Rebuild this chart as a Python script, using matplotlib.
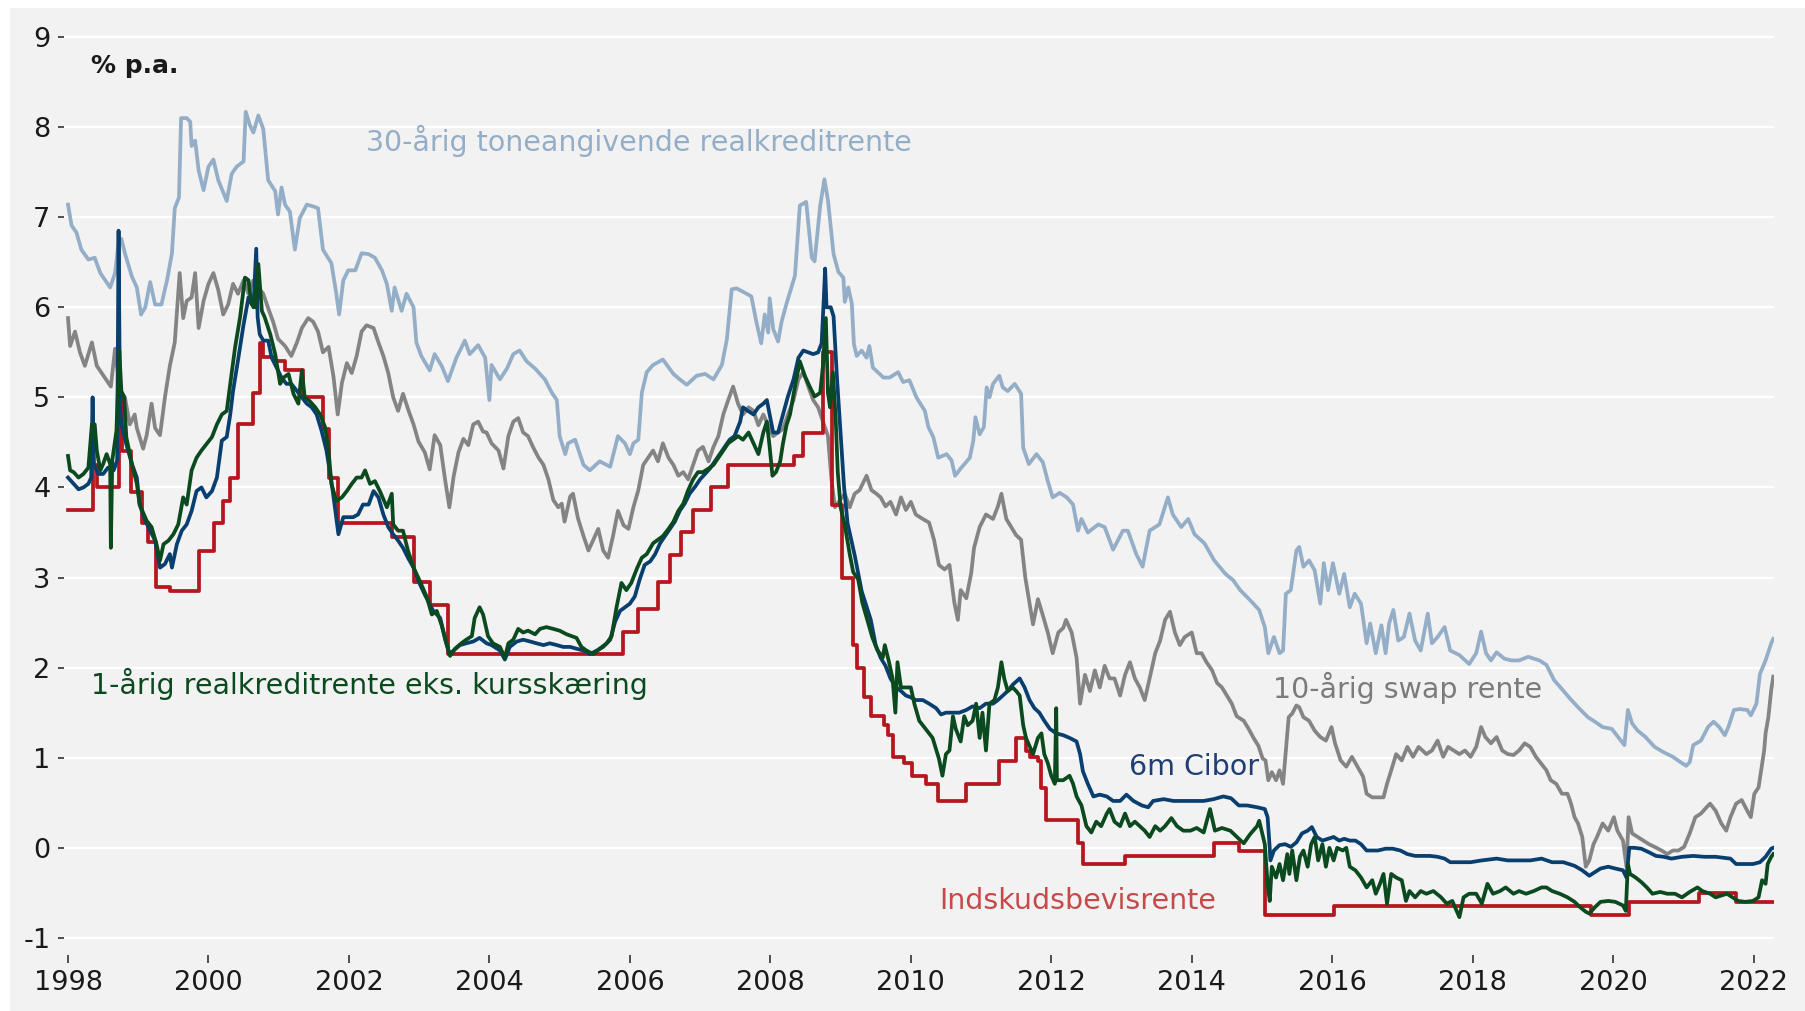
import matplotlib
matplotlib.use("Agg")
import matplotlib.pyplot as plt
from matplotlib.patches import Rectangle

plt.rcParams['font.family'] = ['DejaVu Sans']
plt.rcParams['axes.unicode_minus'] = False

# (decimal year, % p.a.)
realkredit_30 = [
    (1998.00, 7.14), (1998.05, 6.91), (1998.12, 6.83), (1998.19, 6.64), (1998.29, 6.53), (1998.38, 6.55),
    (1998.46, 6.38), (1998.60, 6.22), (1998.67, 6.38), (1998.72, 6.72), (1998.76, 6.76), (1998.81, 6.60),
    (1998.91, 6.34), (1998.98, 6.22), (1999.04, 5.92), (1999.10, 6.00), (1999.17, 6.28), (1999.24, 6.03),
    (1999.33, 6.03), (1999.41, 6.30), (1999.48, 6.60), (1999.52, 7.10), (1999.58, 7.22), (1999.61, 8.10),
    (1999.69, 8.10), (1999.74, 8.06), (1999.76, 7.79), (1999.81, 7.85), (1999.86, 7.52), (1999.93, 7.30),
    (2000.00, 7.56), (2000.07, 7.64), (2000.14, 7.41), (2000.26, 7.18), (2000.33, 7.48), (2000.40, 7.56),
    (2000.50, 7.62), (2000.53, 8.17), (2000.59, 8.02), (2000.64, 7.94), (2000.71, 8.13), (2000.78, 7.98),
    (2000.85, 7.41), (2000.95, 7.29), (2000.99, 7.03), (2001.04, 7.33), (2001.09, 7.14), (2001.16, 7.06),
    (2001.23, 6.64), (2001.30, 6.99), (2001.40, 7.14), (2001.49, 7.12), (2001.56, 7.10), (2001.63, 6.64),
    (2001.75, 6.49), (2001.82, 6.15), (2001.86, 5.92), (2001.92, 6.30), (2001.99, 6.41), (2002.09, 6.41),
    (2002.18, 6.60), (2002.28, 6.59), (2002.37, 6.55), (2002.47, 6.41), (2002.54, 6.26), (2002.61, 5.96),
    (2002.65, 6.22), (2002.75, 5.96), (2002.82, 6.15), (2002.92, 6.00), (2002.96, 5.61), (2003.03, 5.46),
    (2003.15, 5.30), (2003.22, 5.48), (2003.32, 5.35), (2003.41, 5.18), (2003.53, 5.44), (2003.65, 5.63),
    (2003.72, 5.48), (2003.84, 5.58), (2003.94, 5.44), (2004.00, 4.97), (2004.03, 5.36), (2004.15, 5.20),
    (2004.25, 5.32), (2004.34, 5.48), (2004.43, 5.52), (2004.53, 5.40), (2004.65, 5.32), (2004.79, 5.20),
    (2004.89, 5.05), (2004.96, 4.97), (2005.00, 4.57), (2005.08, 4.37), (2005.12, 4.49), (2005.22, 4.53),
    (2005.34, 4.25), (2005.43, 4.19), (2005.57, 4.29), (2005.72, 4.23), (2005.83, 4.57), (2005.93, 4.49),
    (2006.00, 4.37), (2006.05, 4.49), (2006.12, 4.53), (2006.17, 5.05), (2006.24, 5.28), (2006.33, 5.36),
    (2006.47, 5.42), (2006.62, 5.26), (2006.71, 5.20), (2006.81, 5.14), (2006.95, 5.24), (2007.07, 5.26),
    (2007.19, 5.20), (2007.31, 5.36), (2007.38, 5.64), (2007.45, 6.20), (2007.52, 6.21), (2007.64, 6.16),
    (2007.73, 6.12), (2007.80, 5.84), (2007.87, 5.60), (2007.92, 5.92), (2007.97, 5.72), (2007.99, 6.10),
    (2008.04, 5.76), (2008.11, 5.62), (2008.16, 5.84), (2008.23, 6.04), (2008.35, 6.35), (2008.42, 7.13),
    (2008.51, 7.17), (2008.59, 6.55), (2008.63, 6.51), (2008.71, 7.13), (2008.77, 7.42), (2008.82, 7.19),
    (2008.90, 6.59), (2008.97, 6.39), (2009.04, 6.33), (2009.06, 6.06), (2009.11, 6.22), (2009.16, 6.04),
    (2009.19, 5.59), (2009.23, 5.46), (2009.30, 5.52), (2009.37, 5.44), (2009.41, 5.57), (2009.46, 5.33),
    (2009.61, 5.22), (2009.70, 5.22), (2009.82, 5.28), (2009.89, 5.17), (2009.98, 5.19), (2010.08, 5.00),
    (2010.20, 4.85), (2010.25, 4.67), (2010.32, 4.56), (2010.39, 4.33), (2010.51, 4.37), (2010.58, 4.30),
    (2010.63, 4.13), (2010.72, 4.22), (2010.84, 4.33), (2010.89, 4.52), (2010.92, 4.78), (2010.98, 4.59),
    (2011.04, 4.67), (2011.08, 5.11), (2011.12, 5.00), (2011.17, 5.15), (2011.26, 5.24), (2011.31, 5.11),
    (2011.38, 5.07), (2011.48, 5.15), (2011.57, 5.04), (2011.60, 4.44), (2011.68, 4.26), (2011.79, 4.37),
    (2011.88, 4.28), (2011.95, 4.07), (2012.02, 3.89), (2012.12, 3.94), (2012.22, 3.89), (2012.31, 3.81),
    (2012.38, 3.52), (2012.43, 3.65), (2012.52, 3.50), (2012.67, 3.59), (2012.76, 3.56), (2012.88, 3.31),
    (2013.02, 3.52), (2013.09, 3.52), (2013.16, 3.37), (2013.21, 3.26), (2013.30, 3.12), (2013.40, 3.52),
    (2013.54, 3.59), (2013.66, 3.89), (2013.73, 3.70), (2013.85, 3.56), (2013.95, 3.65), (2014.04, 3.48),
    (2014.18, 3.38), (2014.32, 3.19), (2014.48, 3.04), (2014.59, 2.97), (2014.69, 2.86), (2014.83, 2.75),
    (2014.96, 2.64), (2015.04, 2.45), (2015.09, 2.16), (2015.17, 2.34), (2015.25, 2.16), (2015.30, 2.19),
    (2015.34, 2.82), (2015.41, 2.86), (2015.49, 3.30), (2015.53, 3.34), (2015.59, 3.12), (2015.67, 3.19),
    (2015.75, 3.08), (2015.83, 2.71), (2015.88, 3.16), (2015.94, 2.86), (2016.01, 3.16), (2016.10, 2.82),
    (2016.17, 3.04), (2016.25, 2.67), (2016.32, 2.82), (2016.41, 2.71), (2016.49, 2.27), (2016.54, 2.49),
    (2016.62, 2.16), (2016.70, 2.47), (2016.76, 2.16), (2016.81, 2.49), (2016.87, 2.64), (2016.94, 2.30),
    (2017.02, 2.34), (2017.10, 2.60), (2017.18, 2.30), (2017.26, 2.19), (2017.36, 2.60), (2017.42, 2.27),
    (2017.50, 2.34), (2017.60, 2.45), (2017.68, 2.19), (2017.81, 2.14), (2017.95, 2.04), (2018.05, 2.16),
    (2018.12, 2.40), (2018.19, 2.16), (2018.26, 2.08), (2018.34, 2.17), (2018.45, 2.10), (2018.55, 2.08),
    (2018.66, 2.08), (2018.79, 2.12), (2018.95, 2.08), (2019.05, 2.03), (2019.16, 1.86), (2019.24, 1.79),
    (2019.37, 1.67), (2019.50, 1.56), (2019.64, 1.45), (2019.74, 1.40), (2019.85, 1.34), (2019.98, 1.32),
    (2020.09, 1.21), (2020.16, 1.14), (2020.21, 1.53), (2020.27, 1.38), (2020.35, 1.30), (2020.46, 1.23),
    (2020.59, 1.12), (2020.72, 1.06), (2020.85, 1.01), (2020.96, 0.95), (2021.04, 0.91), (2021.09, 0.95),
    (2021.14, 1.14), (2021.25, 1.19), (2021.35, 1.34), (2021.43, 1.40), (2021.51, 1.34), (2021.59, 1.25),
    (2021.64, 1.34), (2021.72, 1.53), (2021.80, 1.54), (2021.91, 1.53), (2021.96, 1.47), (2022.04, 1.60),
    (2022.09, 1.93), (2022.17, 2.08), (2022.25, 2.27), (2022.28, 2.32),
]

swap_10 = [
    (1998.00, 5.88), (1998.03, 5.57), (1998.10, 5.73), (1998.17, 5.50), (1998.24, 5.35), (1998.34, 5.61),
    (1998.41, 5.35), (1998.48, 5.27), (1998.55, 5.19), (1998.61, 5.12), (1998.67, 5.54), (1998.74, 5.08),
    (1998.81, 5.00), (1998.88, 4.70), (1998.95, 4.81), (1998.98, 4.66), (1999.07, 4.43), (1999.12, 4.58),
    (1999.19, 4.93), (1999.24, 4.66), (1999.31, 4.58), (1999.38, 5.00), (1999.45, 5.35), (1999.52, 5.61),
    (1999.59, 6.38), (1999.64, 5.88), (1999.69, 6.07), (1999.76, 6.11), (1999.81, 6.38), (1999.86, 5.77),
    (1999.93, 6.07), (2000.00, 6.26), (2000.07, 6.38), (2000.14, 6.19), (2000.21, 5.92), (2000.28, 6.03),
    (2000.35, 6.26), (2000.42, 6.15), (2000.50, 6.30), (2000.57, 6.15), (2000.64, 6.30), (2000.71, 6.22),
    (2000.78, 6.15), (2000.85, 5.99), (2000.92, 5.84), (2000.99, 5.65), (2001.09, 5.57), (2001.18, 5.46),
    (2001.26, 5.61), (2001.33, 5.77), (2001.42, 5.88), (2001.49, 5.84), (2001.56, 5.73), (2001.63, 5.50),
    (2001.71, 5.56), (2001.78, 5.23), (2001.84, 4.81), (2001.90, 5.16), (2001.97, 5.38), (2002.04, 5.27),
    (2002.11, 5.46), (2002.18, 5.73), (2002.25, 5.80), (2002.35, 5.77), (2002.42, 5.61), (2002.49, 5.46),
    (2002.56, 5.27), (2002.63, 5.00), (2002.70, 4.85), (2002.77, 5.04), (2002.85, 4.85), (2002.92, 4.70),
    (2002.99, 4.51), (2003.08, 4.39), (2003.15, 4.20), (2003.22, 4.58), (2003.30, 4.47), (2003.37, 4.08),
    (2003.43, 3.78), (2003.49, 4.12), (2003.56, 4.39), (2003.63, 4.54), (2003.70, 4.47), (2003.77, 4.70),
    (2003.84, 4.73), (2003.91, 4.62), (2003.96, 4.61), (2004.03, 4.49), (2004.13, 4.41), (2004.20, 4.21),
    (2004.27, 4.57), (2004.34, 4.73), (2004.41, 4.77), (2004.48, 4.61), (2004.55, 4.57), (2004.62, 4.45),
    (2004.70, 4.33), (2004.77, 4.25), (2004.84, 4.09), (2004.91, 3.86), (2004.98, 3.78), (2005.03, 3.82),
    (2005.07, 3.62), (2005.15, 3.90), (2005.19, 3.93), (2005.26, 3.66), (2005.34, 3.46), (2005.41, 3.30),
    (2005.48, 3.42), (2005.55, 3.54), (2005.62, 3.30), (2005.69, 3.22), (2005.76, 3.46), (2005.83, 3.74),
    (2005.91, 3.58), (2005.98, 3.54), (2006.05, 3.78), (2006.12, 3.97), (2006.19, 4.25), (2006.26, 4.33),
    (2006.33, 4.41), (2006.40, 4.29), (2006.47, 4.49), (2006.55, 4.33), (2006.62, 4.25), (2006.69, 4.13),
    (2006.76, 4.17), (2006.83, 4.09), (2006.90, 4.25), (2006.97, 4.41), (2007.04, 4.45), (2007.12, 4.29),
    (2007.19, 4.45), (2007.26, 4.57), (2007.33, 4.81), (2007.40, 4.97), (2007.47, 5.12), (2007.54, 4.93),
    (2007.61, 4.81), (2007.69, 4.89), (2007.76, 4.85), (2007.83, 4.69), (2007.90, 4.81), (2007.97, 4.69),
    (2008.04, 4.57), (2008.11, 4.61), (2008.18, 4.65), (2008.25, 4.81), (2008.33, 4.97), (2008.40, 5.20),
    (2008.47, 5.28), (2008.54, 5.12), (2008.61, 4.97), (2008.68, 4.89), (2008.75, 4.73), (2008.82, 4.57),
    (2008.87, 4.09), (2008.92, 3.78), (2008.99, 3.86), (2009.06, 3.93), (2009.13, 3.78), (2009.20, 3.93),
    (2009.27, 3.97), (2009.37, 4.13), (2009.44, 3.97), (2009.51, 3.93), (2009.57, 3.89), (2009.64, 3.79),
    (2009.71, 3.84), (2009.79, 3.70), (2009.86, 3.89), (2009.93, 3.75), (2010.00, 3.84), (2010.07, 3.70),
    (2010.17, 3.65), (2010.26, 3.61), (2010.33, 3.42), (2010.40, 3.14), (2010.48, 3.09), (2010.55, 3.14),
    (2010.62, 2.72), (2010.67, 2.53), (2010.71, 2.86), (2010.79, 2.77), (2010.86, 3.05), (2010.90, 3.33),
    (2010.98, 3.56), (2011.07, 3.70), (2011.17, 3.65), (2011.24, 3.79), (2011.29, 3.93), (2011.36, 3.65),
    (2011.43, 3.56), (2011.50, 3.47), (2011.57, 3.42), (2011.63, 3.00), (2011.69, 2.72), (2011.74, 2.48),
    (2011.81, 2.76), (2011.88, 2.58), (2011.95, 2.39), (2012.02, 2.16), (2012.10, 2.39), (2012.17, 2.44),
    (2012.21, 2.53), (2012.29, 2.39), (2012.36, 2.11), (2012.41, 1.60), (2012.48, 1.92), (2012.55, 1.74),
    (2012.62, 1.97), (2012.69, 1.78), (2012.76, 2.02), (2012.83, 1.88), (2012.90, 1.88), (2012.98, 1.69),
    (2013.05, 1.92), (2013.12, 2.06), (2013.19, 1.88), (2013.26, 1.78), (2013.33, 1.64), (2013.40, 1.88),
    (2013.48, 2.16), (2013.55, 2.30), (2013.62, 2.53), (2013.69, 2.62), (2013.76, 2.39), (2013.83, 2.25),
    (2013.90, 2.34), (2014.00, 2.39), (2014.07, 2.16), (2014.14, 2.16), (2014.21, 2.06), (2014.29, 1.97),
    (2014.36, 1.83), (2014.43, 1.78), (2014.50, 1.69), (2014.57, 1.60), (2014.64, 1.46), (2014.74, 1.41),
    (2014.81, 1.32), (2014.88, 1.22), (2014.95, 1.13), (2015.01, 0.99), (2015.05, 0.97), (2015.09, 0.75),
    (2015.14, 0.84), (2015.20, 0.75), (2015.25, 0.86), (2015.30, 0.71), (2015.34, 1.08), (2015.38, 1.45),
    (2015.43, 1.49), (2015.49, 1.58), (2015.53, 1.56), (2015.59, 1.45), (2015.67, 1.41), (2015.75, 1.30),
    (2015.83, 1.23), (2015.91, 1.19), (2015.99, 1.34), (2016.04, 1.16), (2016.12, 0.97), (2016.20, 0.90),
    (2016.28, 1.01), (2016.36, 0.90), (2016.44, 0.79), (2016.49, 0.60), (2016.57, 0.56), (2016.65, 0.56),
    (2016.73, 0.56), (2016.78, 0.71), (2016.84, 0.86), (2016.91, 1.04), (2016.99, 0.97), (2017.07, 1.12),
    (2017.15, 1.01), (2017.23, 1.12), (2017.34, 1.04), (2017.42, 1.08), (2017.50, 1.19), (2017.58, 1.01),
    (2017.65, 1.12), (2017.73, 1.08), (2017.81, 1.04), (2017.89, 1.08), (2017.97, 1.01), (2018.05, 1.12),
    (2018.12, 1.34), (2018.18, 1.23), (2018.26, 1.16), (2018.34, 1.23), (2018.42, 1.08), (2018.50, 1.04),
    (2018.58, 1.03), (2018.66, 1.08), (2018.74, 1.16), (2018.82, 1.12), (2018.90, 1.01), (2018.98, 0.93),
    (2019.05, 0.86), (2019.11, 0.75), (2019.19, 0.71), (2019.27, 0.60), (2019.35, 0.60), (2019.40, 0.49),
    (2019.45, 0.34), (2019.50, 0.27), (2019.56, 0.12), (2019.61, -0.21), (2019.66, -0.14), (2019.72, 0.04),
    (2019.77, 0.12), (2019.85, 0.27), (2019.93, 0.19), (2020.01, 0.34), (2020.06, 0.19), (2020.14, 0.08),
    (2020.19, -0.21), (2020.22, 0.34), (2020.27, 0.16), (2020.35, 0.12), (2020.43, 0.08), (2020.51, 0.04),
    (2020.59, 0.01), (2020.69, -0.03), (2020.77, -0.07), (2020.85, -0.03), (2020.93, -0.03), (2021.01, 0.01),
    (2021.09, 0.16), (2021.17, 0.34), (2021.25, 0.38), (2021.33, 0.45), (2021.38, 0.49), (2021.46, 0.41),
    (2021.54, 0.27), (2021.61, 0.19), (2021.67, 0.34), (2021.75, 0.49), (2021.83, 0.53), (2021.91, 0.41),
    (2021.96, 0.34), (2022.01, 0.60), (2022.07, 0.67), (2022.12, 0.93), (2022.15, 1.08), (2022.17, 1.27),
    (2022.21, 1.45), (2022.25, 1.75), (2022.28, 1.90),
]

cibor_6m = [
    (1998.00, 4.11), (1998.08, 4.04), (1998.15, 3.98), (1998.22, 4.00), (1998.29, 4.04), (1998.33, 4.11),
    (1998.35, 5.00), (1998.37, 4.26), (1998.43, 4.15), (1998.50, 4.15), (1998.57, 4.22), (1998.65, 4.19),
    (1998.70, 4.30), (1998.72, 6.85), (1998.74, 4.90), (1998.76, 4.70), (1998.83, 4.48), (1998.91, 4.26),
    (1998.98, 4.11), (1999.02, 3.81), (1999.10, 3.63), (1999.17, 3.52), (1999.24, 3.41), (1999.31, 3.11),
    (1999.38, 3.15), (1999.45, 3.26), (1999.48, 3.11), (1999.55, 3.37), (1999.62, 3.52), (1999.69, 3.59),
    (1999.76, 3.74), (1999.83, 3.96), (1999.90, 4.00), (1999.97, 3.89), (2000.05, 3.96), (2000.12, 4.11),
    (2000.19, 4.52), (2000.26, 4.56), (2000.31, 4.81), (2000.35, 5.07), (2000.42, 5.41), (2000.50, 5.81),
    (2000.57, 6.11), (2000.64, 6.00), (2000.68, 6.65), (2000.70, 5.89), (2000.73, 5.70), (2000.78, 5.63),
    (2000.85, 5.63), (2000.90, 5.44), (2000.97, 5.33), (2001.04, 5.22), (2001.11, 5.15), (2001.18, 5.15),
    (2001.26, 5.07), (2001.33, 5.00), (2001.40, 4.93), (2001.47, 4.89), (2001.54, 4.81), (2001.61, 4.63),
    (2001.68, 4.41), (2001.75, 4.07), (2001.80, 3.78), (2001.85, 3.48), (2001.92, 3.67), (2001.99, 3.67),
    (2002.06, 3.67), (2002.13, 3.70), (2002.20, 3.81), (2002.28, 3.81), (2002.35, 3.96), (2002.42, 3.89),
    (2002.49, 3.70), (2002.56, 3.56), (2002.63, 3.48), (2002.70, 3.41), (2002.77, 3.33), (2002.84, 3.22),
    (2002.92, 3.11), (2002.99, 2.96), (2003.08, 2.81), (2003.20, 2.63), (2003.30, 2.55), (2003.37, 2.31),
    (2003.43, 2.15), (2003.49, 2.19), (2003.58, 2.25), (2003.67, 2.27), (2003.77, 2.29), (2003.86, 2.33),
    (2003.96, 2.27), (2004.03, 2.25), (2004.15, 2.19), (2004.22, 2.09), (2004.29, 2.23), (2004.39, 2.29),
    (2004.48, 2.31), (2004.58, 2.29), (2004.67, 2.27), (2004.77, 2.25), (2004.86, 2.27), (2004.96, 2.25),
    (2005.05, 2.23), (2005.15, 2.23), (2005.24, 2.21), (2005.34, 2.19), (2005.43, 2.15), (2005.53, 2.19),
    (2005.62, 2.23), (2005.72, 2.31), (2005.79, 2.51), (2005.86, 2.63), (2005.93, 2.67), (2006.00, 2.71),
    (2006.07, 2.79), (2006.14, 2.98), (2006.21, 3.14), (2006.29, 3.18), (2006.36, 3.26), (2006.43, 3.38),
    (2006.50, 3.46), (2006.57, 3.54), (2006.64, 3.62), (2006.71, 3.74), (2006.78, 3.82), (2006.85, 3.93),
    (2006.93, 4.01), (2007.00, 4.09), (2007.07, 4.15), (2007.14, 4.21), (2007.21, 4.29), (2007.28, 4.37),
    (2007.35, 4.45), (2007.42, 4.53), (2007.49, 4.57), (2007.57, 4.73), (2007.61, 4.89), (2007.68, 4.85),
    (2007.76, 4.81), (2007.83, 4.89), (2007.90, 4.93), (2007.95, 4.97), (2007.99, 4.81), (2008.04, 4.61),
    (2008.11, 4.61), (2008.18, 4.81), (2008.25, 5.01), (2008.33, 5.20), (2008.40, 5.44), (2008.47, 5.52),
    (2008.54, 5.50), (2008.61, 5.48), (2008.68, 5.50), (2008.73, 5.60), (2008.76, 6.08), (2008.78, 6.43),
    (2008.80, 6.00), (2008.86, 6.00), (2008.90, 5.90), (2008.95, 5.20), (2009.00, 4.60), (2009.05, 4.00),
    (2009.10, 3.60), (2009.20, 3.25), (2009.30, 2.85), (2009.43, 2.53), (2009.50, 2.25), (2009.57, 2.11),
    (2009.64, 2.02), (2009.71, 1.88), (2009.79, 1.78), (2009.86, 1.74), (2009.93, 1.69), (2010.00, 1.67),
    (2010.07, 1.64), (2010.17, 1.64), (2010.26, 1.60), (2010.36, 1.55), (2010.43, 1.48), (2010.50, 1.50),
    (2010.60, 1.50), (2010.69, 1.50), (2010.79, 1.53), (2010.88, 1.57), (2010.98, 1.55), (2011.07, 1.60),
    (2011.17, 1.60), (2011.24, 1.64), (2011.31, 1.69), (2011.38, 1.74), (2011.45, 1.81), (2011.55, 1.88),
    (2011.62, 1.78), (2011.69, 1.64), (2011.76, 1.55), (2011.83, 1.50), (2011.90, 1.41), (2011.98, 1.32),
    (2012.07, 1.27), (2012.17, 1.25), (2012.26, 1.22), (2012.36, 1.18), (2012.41, 1.04), (2012.45, 0.85),
    (2012.52, 0.71), (2012.60, 0.57), (2012.69, 0.59), (2012.79, 0.57), (2012.88, 0.52), (2012.98, 0.52),
    (2013.07, 0.59), (2013.17, 0.52), (2013.29, 0.47), (2013.38, 0.45), (2013.45, 0.52), (2013.60, 0.54),
    (2013.74, 0.52), (2013.88, 0.52), (2014.02, 0.52), (2014.17, 0.52), (2014.31, 0.54), (2014.45, 0.57),
    (2014.56, 0.55), (2014.67, 0.47), (2014.79, 0.47), (2014.93, 0.45), (2015.04, 0.43), (2015.08, 0.34),
    (2015.11, 0.00), (2015.12, -0.14), (2015.17, -0.03), (2015.25, 0.03), (2015.33, 0.04), (2015.41, 0.01),
    (2015.49, 0.06), (2015.57, 0.16), (2015.65, 0.19), (2015.71, 0.23), (2015.78, 0.12), (2015.86, 0.08),
    (2015.94, 0.10), (2016.02, 0.12), (2016.10, 0.08), (2016.17, 0.10), (2016.25, 0.08), (2016.33, 0.08),
    (2016.41, 0.04), (2016.49, -0.03), (2016.57, -0.03), (2016.65, -0.03), (2016.76, -0.01), (2016.86, -0.01),
    (2016.97, -0.03), (2017.07, -0.07), (2017.18, -0.09), (2017.28, -0.09), (2017.39, -0.09), (2017.50, -0.10),
    (2017.60, -0.12), (2017.68, -0.16), (2017.81, -0.16), (2017.97, -0.16), (2018.13, -0.14), (2018.34, -0.12),
    (2018.50, -0.14), (2018.66, -0.14), (2018.82, -0.14), (2018.98, -0.12), (2019.13, -0.16), (2019.29, -0.16),
    (2019.45, -0.20), (2019.56, -0.25), (2019.66, -0.31), (2019.74, -0.27), (2019.82, -0.23), (2019.93, -0.21),
    (2020.03, -0.23), (2020.14, -0.25), (2020.19, -0.33), (2020.23, 0.00), (2020.30, 0.00), (2020.40, -0.01),
    (2020.51, -0.05), (2020.61, -0.09), (2020.72, -0.10), (2020.83, -0.12), (2020.98, -0.10), (2021.14, -0.09),
    (2021.30, -0.10), (2021.46, -0.10), (2021.67, -0.12), (2021.75, -0.18), (2021.88, -0.18), (2021.99, -0.18),
    (2022.09, -0.16), (2022.17, -0.10), (2022.25, -0.01), (2022.28, 0.00),
]

realkredit_1 = [
    (1998.00, 4.35), (1998.03, 4.19), (1998.08, 4.17), (1998.15, 4.11), (1998.22, 4.15), (1998.29, 4.22),
    (1998.34, 4.70), (1998.38, 4.70), (1998.41, 4.41), (1998.46, 4.19), (1998.50, 4.26), (1998.55, 4.37),
    (1998.60, 4.26), (1998.61, 3.33), (1998.63, 4.30), (1998.65, 4.41), (1998.69, 4.63), (1998.73, 5.52),
    (1998.76, 5.07), (1998.80, 5.00), (1998.83, 4.56), (1998.91, 4.26), (1998.98, 4.04), (1999.02, 3.81),
    (1999.12, 3.63), (1999.19, 3.56), (1999.26, 3.37), (1999.31, 3.19), (1999.36, 3.37), (1999.43, 3.41),
    (1999.50, 3.48), (1999.57, 3.59), (1999.64, 3.89), (1999.69, 3.81), (1999.76, 4.19), (1999.83, 4.33),
    (1999.90, 4.41), (1999.97, 4.48), (2000.05, 4.56), (2000.12, 4.70), (2000.19, 4.81), (2000.26, 4.85),
    (2000.31, 5.15), (2000.38, 5.56), (2000.45, 5.89), (2000.52, 6.33), (2000.57, 6.30), (2000.61, 6.04),
    (2000.66, 6.00), (2000.71, 6.48), (2000.76, 5.96), (2000.80, 5.89), (2000.88, 5.70), (2000.95, 5.48),
    (2001.02, 5.15), (2001.07, 5.22), (2001.14, 5.26), (2001.21, 5.04), (2001.28, 4.93), (2001.33, 5.30),
    (2001.37, 5.00), (2001.44, 4.96), (2001.52, 4.89), (2001.59, 4.81), (2001.66, 4.67), (2001.71, 4.41),
    (2001.75, 4.04), (2001.82, 3.85), (2001.90, 3.89), (2001.97, 3.96), (2002.04, 4.04), (2002.11, 4.11),
    (2002.18, 4.11), (2002.23, 4.19), (2002.30, 4.04), (2002.37, 4.07), (2002.44, 3.96), (2002.54, 3.78),
    (2002.61, 3.93), (2002.63, 3.59), (2002.70, 3.52), (2002.77, 3.52), (2002.84, 3.30), (2002.92, 3.11),
    (2003.01, 2.96), (2003.11, 2.78), (2003.18, 2.59), (2003.25, 2.63), (2003.32, 2.47), (2003.39, 2.27),
    (2003.44, 2.13), (2003.51, 2.21), (2003.60, 2.27), (2003.67, 2.31), (2003.75, 2.35), (2003.79, 2.55),
    (2003.86, 2.67), (2003.91, 2.59), (2003.98, 2.35), (2004.05, 2.27), (2004.15, 2.23), (2004.22, 2.11),
    (2004.27, 2.27), (2004.34, 2.31), (2004.41, 2.43), (2004.48, 2.39), (2004.55, 2.41), (2004.65, 2.37),
    (2004.72, 2.43), (2004.81, 2.45), (2004.91, 2.43), (2005.00, 2.41), (2005.10, 2.37), (2005.17, 2.35),
    (2005.24, 2.33), (2005.31, 2.23), (2005.38, 2.19), (2005.48, 2.15), (2005.57, 2.21), (2005.67, 2.27),
    (2005.74, 2.35), (2005.81, 2.67), (2005.88, 2.94), (2005.95, 2.86), (2006.02, 2.94), (2006.10, 3.10),
    (2006.17, 3.22), (2006.24, 3.26), (2006.33, 3.38), (2006.40, 3.42), (2006.47, 3.46), (2006.55, 3.54),
    (2006.62, 3.62), (2006.69, 3.74), (2006.76, 3.82), (2006.83, 3.97), (2006.90, 4.09), (2006.97, 4.17),
    (2007.04, 4.17), (2007.12, 4.21), (2007.19, 4.25), (2007.26, 4.33), (2007.33, 4.41), (2007.40, 4.49),
    (2007.47, 4.53), (2007.54, 4.57), (2007.61, 4.53), (2007.69, 4.61), (2007.76, 4.49), (2007.83, 4.37),
    (2007.90, 4.61), (2007.95, 4.73), (2007.99, 4.45), (2008.03, 4.13), (2008.08, 4.17), (2008.14, 4.29),
    (2008.18, 4.49), (2008.23, 4.69), (2008.28, 4.81), (2008.35, 5.12), (2008.42, 5.40), (2008.49, 5.24),
    (2008.56, 5.12), (2008.63, 5.01), (2008.71, 5.05), (2008.75, 5.36), (2008.79, 5.88), (2008.82, 5.05),
    (2008.85, 4.89), (2008.89, 5.28), (2008.93, 4.77), (2008.96, 4.17), (2009.00, 3.78), (2009.06, 3.58),
    (2009.13, 3.26), (2009.18, 3.06), (2009.25, 2.98), (2009.31, 2.72), (2009.38, 2.53), (2009.45, 2.34),
    (2009.52, 2.20), (2009.60, 2.11), (2009.63, 2.25), (2009.69, 2.06), (2009.74, 1.88), (2009.78, 1.50),
    (2009.81, 2.06), (2009.86, 1.78), (2009.93, 1.78), (2010.00, 1.78), (2010.05, 1.60), (2010.12, 1.41),
    (2010.21, 1.32), (2010.31, 1.22), (2010.40, 0.99), (2010.45, 0.80), (2010.50, 1.04), (2010.55, 1.08),
    (2010.60, 1.46), (2010.64, 1.32), (2010.71, 1.18), (2010.76, 1.46), (2010.81, 1.36), (2010.88, 1.41),
    (2010.93, 1.60), (2010.98, 1.22), (2011.02, 1.50), (2011.07, 1.08), (2011.12, 1.60), (2011.19, 1.64),
    (2011.24, 1.78), (2011.29, 2.06), (2011.33, 1.88), (2011.38, 1.74), (2011.45, 1.78), (2011.50, 1.74),
    (2011.55, 1.69), (2011.60, 1.36), (2011.64, 1.22), (2011.69, 1.13), (2011.74, 1.04), (2011.81, 1.22),
    (2011.86, 1.27), (2011.90, 1.04), (2011.95, 0.94), (2012.00, 0.80), (2012.05, 0.71), (2012.07, 1.55),
    (2012.08, 0.75), (2012.17, 0.75), (2012.26, 0.80), (2012.31, 0.71), (2012.36, 0.57), (2012.43, 0.47),
    (2012.50, 0.24), (2012.57, 0.17), (2012.64, 0.29), (2012.71, 0.24), (2012.79, 0.38), (2012.83, 0.43),
    (2012.90, 0.29), (2012.98, 0.24), (2013.05, 0.38), (2013.12, 0.24), (2013.19, 0.29), (2013.26, 0.24),
    (2013.33, 0.19), (2013.40, 0.12), (2013.48, 0.24), (2013.55, 0.19), (2013.62, 0.24), (2013.71, 0.33),
    (2013.79, 0.24), (2013.88, 0.19), (2013.98, 0.19), (2014.07, 0.22), (2014.17, 0.17), (2014.26, 0.43),
    (2014.33, 0.19), (2014.43, 0.22), (2014.55, 0.19), (2014.67, 0.10), (2014.74, 0.05), (2014.83, 0.15),
    (2014.93, 0.24), (2014.96, 0.30), (2015.04, 0.04), (2015.08, -0.40), (2015.11, -0.59), (2015.14, -0.21),
    (2015.20, -0.33), (2015.25, -0.18), (2015.30, -0.36), (2015.36, -0.07), (2015.39, -0.29), (2015.43, -0.03),
    (2015.49, -0.36), (2015.54, -0.10), (2015.59, -0.03), (2015.65, -0.21), (2015.70, 0.04), (2015.75, 0.12),
    (2015.80, -0.14), (2015.86, 0.04), (2015.91, -0.21), (2015.96, 0.00), (2016.02, -0.14), (2016.07, 0.00),
    (2016.15, -0.03), (2016.20, 0.00), (2016.25, -0.21), (2016.33, -0.25), (2016.41, -0.33), (2016.49, -0.44),
    (2016.57, -0.36), (2016.62, -0.51), (2016.68, -0.40), (2016.73, -0.29), (2016.78, -0.62), (2016.84, -0.29),
    (2016.91, -0.33), (2016.99, -0.36), (2017.05, -0.59), (2017.10, -0.48), (2017.18, -0.55), (2017.26, -0.48),
    (2017.34, -0.51), (2017.44, -0.48), (2017.55, -0.55), (2017.63, -0.62), (2017.71, -0.59), (2017.81, -0.77),
    (2017.87, -0.55), (2017.95, -0.51), (2018.05, -0.51), (2018.13, -0.62), (2018.21, -0.40), (2018.29, -0.51),
    (2018.39, -0.48), (2018.47, -0.44), (2018.58, -0.51), (2018.66, -0.48), (2018.76, -0.51), (2018.87, -0.48),
    (2018.98, -0.44), (2019.05, -0.44), (2019.13, -0.48), (2019.24, -0.51), (2019.35, -0.55), (2019.45, -0.60),
    (2019.53, -0.66), (2019.61, -0.71), (2019.66, -0.73), (2019.74, -0.66), (2019.82, -0.60), (2019.93, -0.59),
    (2020.03, -0.60), (2020.14, -0.64), (2020.18, -0.70), (2020.21, -0.18), (2020.24, -0.29), (2020.32, -0.33),
    (2020.40, -0.38), (2020.48, -0.44), (2020.56, -0.51), (2020.67, -0.49), (2020.77, -0.51), (2020.88, -0.51),
    (2020.98, -0.55), (2021.09, -0.49), (2021.20, -0.44), (2021.27, -0.48), (2021.38, -0.51), (2021.46, -0.55),
    (2021.54, -0.53), (2021.62, -0.51), (2021.70, -0.55), (2021.78, -0.59), (2021.88, -0.60), (2021.99, -0.59),
    (2022.07, -0.55), (2022.12, -0.36), (2022.17, -0.40), (2022.20, -0.18), (2022.25, -0.10), (2022.28, -0.07),
]

# deposit (certificate of deposit) rate: value holds from each date until the next one
indskudsbevis = [
    (1998.00, 3.75), (1998.35, 4.25), (1998.41, 4.00), (1998.72, 5.00), (1998.77, 4.40), (1998.90, 3.95),
    (1999.05, 3.60), (1999.14, 3.40), (1999.26, 2.90), (1999.45, 2.85), (1999.87, 3.30), (2000.08, 3.60),
    (2000.20, 3.85), (2000.31, 4.10), (2000.42, 4.70), (2000.64, 5.05), (2000.73, 5.60), (2000.78, 5.45),
    (2000.95, 5.40), (2001.09, 5.30), (2001.35, 5.00), (2001.63, 4.65), (2001.71, 4.10), (2001.85, 3.60),
    (2002.62, 3.45), (2002.92, 2.95), (2003.15, 2.70), (2003.41, 2.15), (2005.90, 2.40), (2006.12, 2.65),
    (2006.40, 2.95), (2006.57, 3.25), (2006.73, 3.50), (2006.90, 3.75), (2007.15, 4.00), (2007.40, 4.25),
    (2008.33, 4.35), (2008.47, 4.60), (2008.75, 5.50), (2008.88, 3.80), (2009.02, 3.00), (2009.17, 2.25),
    (2009.24, 2.00), (2009.33, 1.67), (2009.43, 1.46), (2009.62, 1.36), (2009.67, 1.25), (2009.74, 1.01),
    (2009.90, 0.94), (2010.02, 0.80), (2010.21, 0.71), (2010.38, 0.52), (2010.79, 0.71), (2011.26, 0.96),
    (2011.50, 1.22), (2011.64, 1.08), (2011.69, 1.01), (2011.81, 0.96), (2011.86, 0.66), (2011.93, 0.31),
    (2012.38, 0.05), (2012.45, -0.18), (2013.05, -0.09), (2014.31, 0.05), (2014.67, -0.04), (2015.04, -0.75),
    (2016.02, -0.65), (2019.69, -0.75), (2020.22, -0.60), (2021.22, -0.50), (2021.75, -0.60), (2022.28, -0.60),
]

year_ticks = list(range(1998, 2023, 2))
y_ticks = list(range(-1, 10))

C_LIGHT = '#94aec8'
C_GREY = '#848484'
C_RED = '#b5171e'
C_NAVY = '#083f6e'
C_GREEN = '#0b4a1f'

fig = plt.figure(figsize=(18.06, 10.11), dpi=100)
fig.patch.set_facecolor('white')
# grey panel, leaving a thin white margin at top and left
fig.add_artist(Rectangle((10 / 1806, 0), 1, 1 - 8 / 1011, transform=fig.transFigure,
                         facecolor='#f2f2f2', edgecolor='none', zorder=-10))

ax = fig.add_axes([64 / 1806, 1 - 955 / 1011, (1774 - 64) / 1806, (955 - 10) / 1011])
ax.set_facecolor('#f2f2f2')
ax.set_zorder(1)


def xy(points):
    return [p[0] for p in points], [p[1] for p in points]


lw = 2.7
ax.plot(*xy(realkredit_30), color=C_LIGHT, lw=lw, zorder=2)
ax.plot(*xy(swap_10), color=C_GREY, lw=lw, zorder=3)
ax.plot(*xy(indskudsbevis), color=C_RED, lw=lw, drawstyle='steps-post', zorder=4)
ax.plot(*xy(cibor_6m), color=C_NAVY, lw=lw, zorder=5)
ax.plot(*xy(realkredit_1), color=C_GREEN, lw=lw, zorder=6)

ax.set_xlim(1997.943, 2022.29)
ax.set_ylim(-1.19, 9.3)

ax.set_xticks(year_ticks)
ax.set_xticklabels([str(y) for y in year_ticks])
ax.set_yticks(y_ticks)
ax.set_yticklabels([str(v) for v in y_ticks])

for s in ax.spines.values():
    s.set_visible(False)

ax.yaxis.grid(True, color='white', lw=1.6)
ax.xaxis.grid(False)
ax.set_axisbelow(True)

ax.tick_params(axis='y', direction='out', length=4.2, width=1.2, color='#333333',
               pad=5.5, labelsize=19.5, labelcolor='#1a1a1a')
ax.tick_params(axis='x', direction='out', length=6, width=1.2, color='#333333',
               pad=5, labelsize=19.5, labelcolor='#1a1a1a')

ax.text(1998.33, 8.68, '% p.a.', fontsize=18, fontweight='bold', color='#1a1a1a',
        ha='left', va='center')
ax.text(2002.24, 7.85, '30-årig toneangivende realkreditrente', fontsize=20.5,
        color=C_LIGHT, ha='left', va='center')
ax.text(1998.33, 1.82, '1-årig realkreditrente eks. kursskæring', fontsize=20.5,
        color=C_GREEN, ha='left', va='center')
ax.text(2015.15, 1.78, '10-årig swap rente', fontsize=20.5,
        color='#7b7b7b', ha='left', va='center')
ax.text(2013.10, 0.90, '6m Cibor', fontsize=20.5,
        color='#1f3f74', ha='left', va='center')
ax.text(2010.40, -0.59, 'Indskudsbevisrente', fontsize=20.5,
        color='#c64a4a', ha='left', va='center')

fig.savefig('out.png', dpi=100)
plt.close(fig)
